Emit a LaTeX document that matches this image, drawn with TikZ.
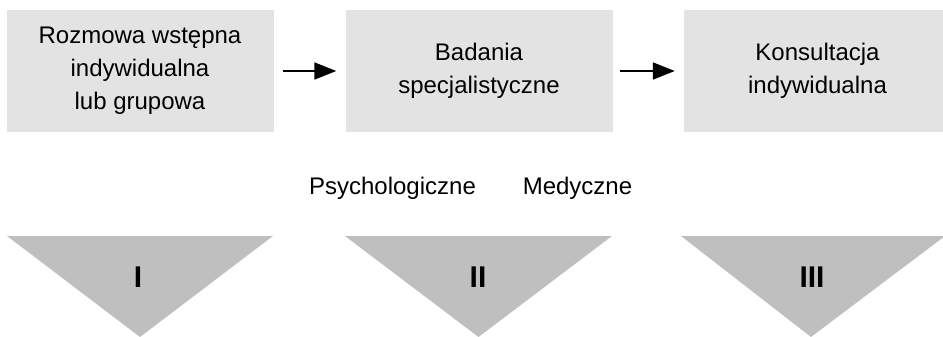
\documentclass[tikz,border=0pt]{standalone}
\usepackage{fontspec}
\setmainfont{Liberation Sans}
\usetikzlibrary{arrows.meta}

\definecolor{boxgray}{HTML}{E3E3E3}
\definecolor{trigray}{HTML}{BFBFBF}

\begin{document}
\begin{tikzpicture}[x=1pt, y=-1pt,
        stage/.style={fill=boxgray, minimum width=267pt, minimum height=122pt,
            align=center, inner sep=0pt, font=\fontsize{24}{33}\selectfont},
        kind/.style={font=\fontsize{24}{33}\selectfont, inner sep=0pt},
        num/.style={font=\fontsize{30}{36}\selectfont\bfseries, inner sep=0pt},
        flow/.style={line width=1.8pt, -{Triangle[length=22pt, width=17pt]}}]
        \useasboundingbox (0,0) rectangle (943,337);
        \clip (0,0) rectangle (943,337);

        %stages
        \node[stage] (rozmowa) at (140,71) {Rozmowa wstępna\\indywidualna\\lub grupowa};
        \node[stage] (badania) at (479,71) {Badania\\specjalistyczne};
        \node[stage] (konsult) at (817.5,71) {Konsultacja\\indywidualna};

        \draw[flow, shorten <=9pt, shorten >=9pt] (rozmowa) -- (badania);
        \draw[flow, shorten <=7pt, shorten >=9pt] (badania) -- (konsult);

        \node[kind] (psych) at (392.5,188) {Psychologiczne};
        \node[kind] (medyk) at (577.5,188) {Medyczne};

        %triangles
        \fill[trigray] (7,236) -- (273,236) -- (140,337) -- cycle;
        \fill[trigray] (345,236) -- (612,236) -- (478.5,337) -- cycle;
        \fill[trigray] (681,236) -- (945,236) -- (811,337) -- cycle;

        \node[num] (n1) at (138,277) {I};
        \node[num] (n2) at (478,277) {II};
        \node[num] (n3) at (812,277) {III};
\end{tikzpicture}
\end{document}
